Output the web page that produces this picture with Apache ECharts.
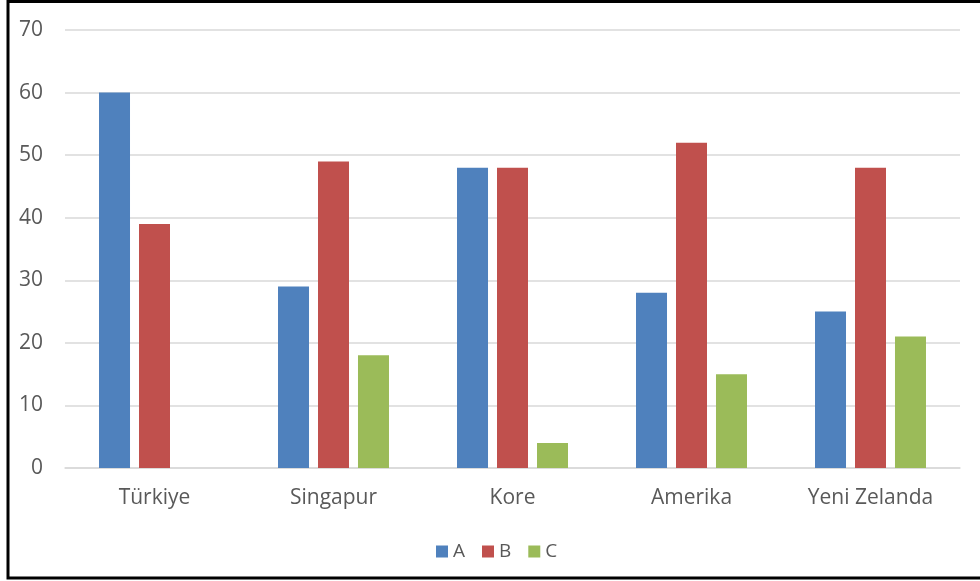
<!DOCTYPE html>
<html>
<head>
<meta charset="utf-8">
<script src="https://cdn.jsdelivr.net/npm/echarts@6/dist/echarts.min.js"></script>
<style>
  html, body { margin: 0; padding: 0; background: #fff; }
  #chart { width: 980px; height: 581px; }
</style>
</head>
<body>
<div id="chart"></div>
<script>
// Country groups along the x axis
const categories = ['Türkiye', 'Singapur', 'Kore', 'Amerika', 'Yeni Zelanda'];
// Values per series
const seriesA = [60, 29, 48, 28, 25];
const seriesB = [39, 49, 48, 52, 48];
const seriesC = [0, 18, 4, 15, 21];
const seriesNames = ['A', 'B', 'C'];
const colors = ['#4F81BD', '#C0504D', '#9BBB59'];

const textFont = '"Open Sans", "Noto Sans", sans-serif';
const chart = echarts.init(document.getElementById('chart'));

function barSeries(name, data, color) {
  return {
    name: name,
    type: 'bar',
    data: data,
    barWidth: 31,
    barGap: '29%',
    itemStyle: { color: color },
    emphasis: { disabled: true }
  };
}

chart.setOption({
  animation: false,
  color: colors,
  graphic: [{
    type: 'rect',
    shape: { x: 8, y: 1.5, width: 990, height: 576.5 },
    style: { fill: 'none', stroke: '#000', lineWidth: 3 },
    z: 100
  }],
  grid: { left: 65, right: 20, top: 30, bottom: 113 },
  legend: {
    bottom: 15,
    left: 431,
    icon: 'rect',
    itemWidth: 12,
    itemHeight: 12,
    itemGap: 17,
    textStyle: { color: '#595959', fontSize: 19, fontFamily: textFont },
    data: seriesNames
  },
  xAxis: {
    type: 'category',
    data: categories,
    axisLine: { lineStyle: { color: '#D9D9D9', width: 1.5 } },
    axisTick: { show: false },
    axisLabel: { color: '#595959', fontSize: 21, fontFamily: textFont, margin: 20 }
  },
  yAxis: {
    type: 'value',
    min: 0,
    max: 70,
    interval: 10,
    axisLine: { show: false },
    axisTick: { show: false },
    splitLine: { lineStyle: { color: '#D9D9D9', width: 1.5 } },
    axisLabel: { color: '#595959', fontSize: 21, fontFamily: textFont, margin: 22 }
  },
  series: [
    barSeries(seriesNames[0], seriesA, colors[0]),
    barSeries(seriesNames[1], seriesB, colors[1]),
    barSeries(seriesNames[2], seriesC, colors[2])
  ]
});
</script>
</body>
</html>
